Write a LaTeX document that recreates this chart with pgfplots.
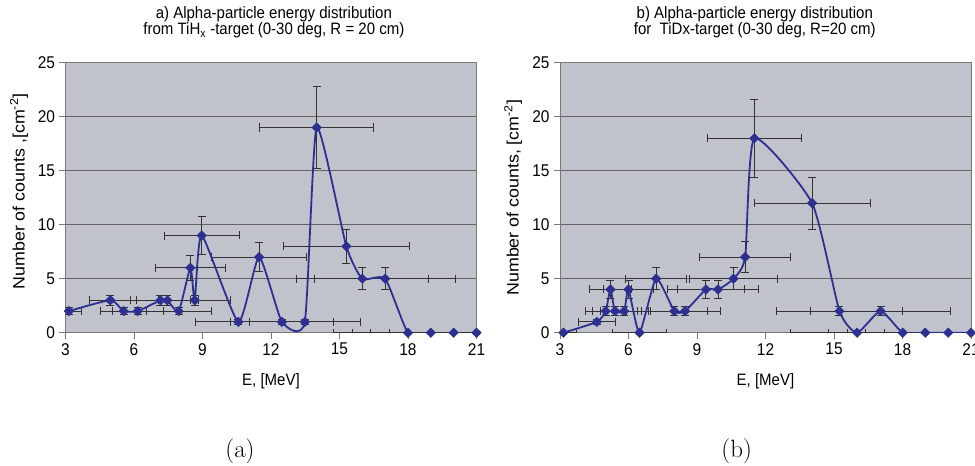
\documentclass[border=0pt]{standalone}
\usepackage{fontspec}
\usepackage{pgfplots}
\usepackage{pgfplotstable}
\pgfplotsset{compat=1.18}
\newfontfamily\arial{Liberation Sans}[FakeStretch=0.91]
\newfontfamily\arialY{Liberation Sans}[FakeStretch=1.08]
\definecolor{bg}{RGB}{192,195,204}
\definecolor{ser}{RGB}{45,48,145}
\definecolor{grd}{RGB}{100,100,100}
\definecolor{axc}{RGB}{120,120,120}
\definecolor{errc}{RGB}{50,50,50}

\pgfplotstableread{
E N ex ey
3.15 2 0.57 0.3
4.96 3 0.90 0.45
5.55 2 1.00 0.3
6.16 2 1.12 0.3
7.16 3 1.30 0.45
7.46 3 1.35 0.45
7.96 2 1.42 0.3
8.47 6 1.54 1.15
8.66 3 1.57 0.45
8.97 9 1.63 1.8
10.57 1 1.88 0.2
11.48 7 2.07 1.37
12.48 1 2.25 0.2
13.48 1 2.44 0.2
14.00 19 2.50 3.8
15.30 8 2.77 1.6
16.00 5 2.90 1.0
17.00 5 3.10 1.0
18.00 0 3.25 0
19.00 0 3.44 0
20.00 0 3.63 0
21.00 0 3.80 0
}\dataA

\pgfplotstableread{
E N ex ey
3.15 0 0.57 0
4.61 1 0.82 0.2
5.00 2 0.90 0.4
5.21 4 0.94 0.8
5.41 2 0.97 0.4
5.81 2 1.05 0.4
6.00 4 1.08 0.8
6.48 0 1.17 0
7.21 5 1.32 1.0
8.01 2 1.44 0.4
8.48 2 1.53 0.4
9.39 4 1.67 0.8
9.92 4 1.77 0.8
10.60 5 1.94 1.0
11.11 7 2.00 1.4
11.51 18 2.07 3.6
14.04 12 2.54 2.4
15.24 2 2.74 0.4
16.01 0 2.90 0
17.04 2 3.07 0.4
18.01 0 3.24 0
19.00 0 3.42 0
20.00 0 3.60 0
21.00 0 3.78 0
}\dataB

\pgfplotsset{
  myax/.style={
    scale only axis, width=411pt, height=270pt,
    xmin=3, xmax=21, ymin=0, ymax=25,
    xtick={3,6,...,21}, ytick={0,5,...,25},
    tick align=outside, xtick pos=bottom, ytick pos=left,
    major tick length=6pt,
    tick style={draw=axc, line width=0.9pt},
    ymajorgrids, grid style={draw=grd, line width=0.7pt},
    axis background/.style={fill=bg},
    axis line style={draw=axc, line width=0.9pt},
    /pgf/number format/assume math mode=true,
    tick label style={font=\arial\fontsize{17}{17}\selectfont},
    xticklabel style={yshift=-1pt},
    yticklabel style={xshift=-1pt},
    xlabel style={font=\arial\fontsize{16.5}{16.5}\selectfont, at={(axis description cs:0.5,-0.181)}, anchor=center},
    ylabel style={font=\arialY\fontsize{16.5}{16.5}\selectfont, anchor=center},
    title style={font=\arial\fontsize{16.5}{16.5}\selectfont, align=center, anchor=center},
    xlabel={E, [MeV]},
  },
  errs/.style={forget plot, only marks, mark=none,
    error bars/.cd, x dir=both, x explicit, y dir=both, y explicit,
    error bar style={draw=errc, line width=1pt},
    error mark options={rotate=90, mark size=4pt, draw=errc, line width=1pt}},
  ln/.style={color=ser, line width=1.8pt, smooth, tension=0.33,
    mark=square*, mark options={rotate=45, mark size=3.4pt, fill=ser, draw=ser, line width=0.4pt, solid}},
  mk/.style={only marks, mark=square*, mark options={rotate=45, mark size=3.4pt, fill=ser, draw=ser, line width=0.4pt}},
}

\begin{document}
\begin{tikzpicture}[x=1pt,y=1pt]
\useasboundingbox (0,0) rectangle (975,466);

\begin{axis}[myax, at={(65.5pt,133.3pt)}, anchor=south west,
  ylabel={Number of counts ,[cm\textsuperscript{-2}]},
  ylabel style={at={(axis description cs:-0.113,0.523)}},
  title={a) Alpha-particle energy distribution\\from TiH\textsubscript{x} -target (0-30 deg, R = 20 cm)},
  title style={at={(axis description cs:0.507,1.1285)}},
]
\addplot[errs] table[x=E, y=N, x error=ex, y error=ey] {\dataA};
\addplot[ln, skip coords between index={20}{22}] table[x=E, y=N] {\dataA};
\addplot[mk, skip coords between index={0}{20}] table[x=E, y=N] {\dataA};
\end{axis}

\begin{axis}[myax, at={(560pt,133.3pt)}, anchor=south west,
  ylabel={Number of counts, [cm\textsuperscript{-2}]},
  ylabel style={at={(axis description cs:-0.114,0.5)}},
  title={b) Alpha-particle energy distribution\\for\ \ TiDx-target (0-30 deg, R=20 cm)},
  title style={at={(axis description cs:0.474,1.1285)}},
]
\addplot[errs] table[x=E, y=N, x error=ex, y error=ey] {\dataB};
\addplot[ln] table[x=E, y=N] {\dataB};
\end{axis}

\node[font=\fontsize{25}{30}\selectfont] at (240,15) {(a)};
\node[font=\fontsize{25}{30}\selectfont] at (736.7,15) {(b)};
\end{tikzpicture}
\end{document}
